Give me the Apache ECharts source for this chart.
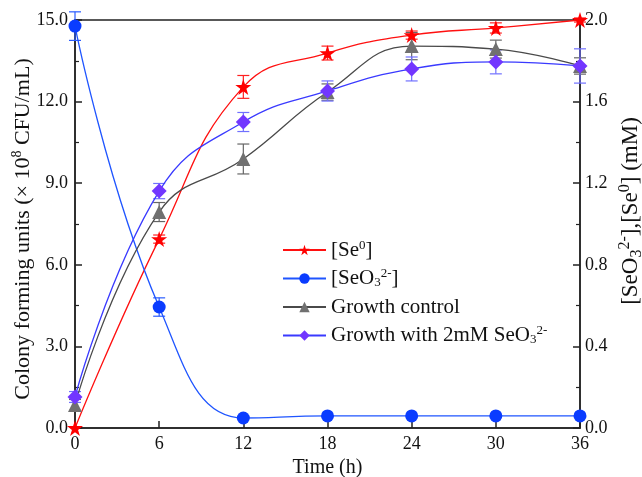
<!DOCTYPE html>
<html><head><meta charset="utf-8">
<script src="https://cdn.jsdelivr.net/npm/echarts@6/dist/echarts.min.js"></script>
<style>html,body{margin:0;padding:0;background:#fff}#c{width:642px;height:477px}</style>
</head><body><div id="c"></div>
<script>
var times = [0, 6, 12, 18, 24, 30, 36];
var xTicks = [0, 6, 12, 18, 24, 30, 36];
// right axis (mM)
var se0 = [0, 0.926, 1.672, 1.838, 1.926, 1.961, 2.0];
var se0Err = [0, 0.02, 0.056, 0.034, 0.02, 0.025, 0.01];
var seo3 = [1.97, 0.593, 0.049, 0.059, 0.059, 0.059, 0.059];
var seo3Err = [0.07, 0.045, 0, 0, 0, 0, 0];
// left axis (x10^8 CFU/mL)
var growthCtrl = [0.85, 7.94, 9.89, 12.35, 14.04, 13.93, 13.31];
var growthCtrlErr = [0.2, 0.35, 0.55, 0.3, 0.5, 0.33, 0.3];
var growthSe = [1.14, 8.71, 11.25, 12.39, 13.2, 13.46, 13.31];
var growthSeErr = [0.2, 0.28, 0.35, 0.37, 0.44, 0.44, 0.63];

var names = ['[Se0]', '[SeO32-]', 'Growth control', 'Growth with 2mM SeO32-'];

function pts(v){ return times.map(function(t,i){ return [t, v[i]]; }); }
function errPts(v,e){ return times.map(function(t,i){ return [t, v[i]-e[i], v[i]+e[i]]; }); }
function errSeries(v, e, color, yIdx){
  return {
    type: 'custom', yAxisIndex: yIdx, z: 1, silent: true,
    data: errPts(v, e),
    encode: {x: 0, y: [1, 2]},
    renderItem: function(params, api){
      var lo = api.coord([api.value(0), api.value(1)]);
      var hi = api.coord([api.value(0), api.value(2)]);
      if (Math.abs(lo[1]-hi[1]) < 0.5) return {type:'group', children: []};
      var w = 6;
      var st = {stroke: color, lineWidth: 1.2};
      return {type: 'group', children: [
        {type:'line', shape:{x1:lo[0], y1:lo[1], x2:hi[0], y2:hi[1]}, style: st},
        {type:'line', shape:{x1:lo[0]-w, y1:lo[1], x2:lo[0]+w, y2:lo[1]}, style: st},
        {type:'line', shape:{x1:hi[0]-w, y1:hi[1], x2:hi[0]+w, y2:hi[1]}, style: st}
      ]};
    }
  };
}

var FONT = '"Liberation Serif", "Times New Roman", serif';
var axisCommon = {
  axisLine: {show: true, lineStyle: {color: '#222', width: 1.5}},
  axisTick: {show: true, inside: true, length: 7, lineStyle: {color: '#222', width: 1.5}},
  splitLine: {show: false}
};
function supSub(size){
  return {
    sup: {fontFamily: FONT, fontSize: size, lineHeight: size, color: '#111', verticalAlign: 'top'},
    sub: {fontFamily: FONT, fontSize: size, lineHeight: size, color: '#111', verticalAlign: 'bottom'}
  };
}

var chart = echarts.init(document.getElementById('c'));
chart.setOption({
  backgroundColor: '#fff',
  animation: false,
  grid: {left: 75, right: 62, top: 20, bottom: 49, containLabel: false, outerBoundsMode: 'none',
         show: true, borderColor: '#222', borderWidth: 1.5},
  legend: {
    left: 282, top: 239, orient: 'vertical', padding: 0,
    itemWidth: 43, itemHeight: 13, itemGap: 6.5, itemTextGap: 9,
    data: names,
    textStyle: {fontFamily: FONT, fontSize: 21, lineHeight: 22, color: '#111',
      rich: supSub(13)},
    formatter: function(n){
      if (n === '[Se0]') return '[Se{sup|0}]';
      if (n === '[SeO32-]') return '[SeO{sub|3}{sup|2-}]';
      if (n === 'Growth with 2mM SeO32-') return 'Growth with 2mM SeO{sub|3}{sup|2-}';
      return n;
    }
  },
  xAxis: Object.assign({}, axisCommon, {
    type: 'value', min: 0, max: 36, interval: 6,
    name: 'Time (h)', nameLocation: 'middle', nameGap: 30, nameMoveOverlap: false,
    nameTextStyle: {fontFamily: FONT, fontSize: 20, color: '#111'},
    axisLabel: {color: '#111', fontFamily: FONT, fontSize: 18, margin: 7,
      formatter: function(v){ return xTicks.indexOf(v) >= 0 ? String(v) : ''; }}
  }),
  yAxis: [
    Object.assign({}, axisCommon, {
      type: 'value', min: 0, max: 15, interval: 3, position: 'left',
      minorTick: {show: true, splitNumber: 2, length: 4, lineStyle: {color: '#222', width: 1.2}},
      axisLabel: {color: '#111', fontFamily: FONT, fontSize: 18, margin: 7, formatter: function(v){ return v.toFixed(1); }},
      name: 'Colony forming units (× 10{sup|8} CFU/mL)', nameLocation: 'middle', nameGap: 39, nameRotate: 90,
      nameMoveOverlap: false,
      nameTextStyle: {fontFamily: FONT, fontSize: 22, lineHeight: 26, color: '#111', padding: [0, 10, 0, 0], rich: supSub(14)}
    }),
    Object.assign({}, axisCommon, {
      type: 'value', min: 0, max: 2, interval: 0.4, position: 'right',
      minorTick: {show: true, splitNumber: 2, length: 4, lineStyle: {color: '#222', width: 1.2}},
      axisLabel: {color: '#111', fontFamily: FONT, fontSize: 18, margin: 5, formatter: function(v){ return v.toFixed(1); }},
      name: '[SeO{sub|3}{sup|2-}],[Se{sup|0}] (mM)', nameLocation: 'middle', nameGap: 37, nameRotate: 90,
      nameMoveOverlap: false,
      nameTextStyle: {fontFamily: FONT, fontSize: 23, lineHeight: 28, color: '#111', padding: [0, 0, 0, 26], rich: supSub(16)}
    })
  ],
  series: [
    errSeries(se0, se0Err, '#ff2020', 1),
    errSeries(seo3, seo3Err, '#2a5cff', 1),
    errSeries(growthCtrl, growthCtrlErr, '#666', 0),
    errSeries(growthSe, growthSeErr, '#7070ff', 0),
    {name: names[0], type: 'line', yAxisIndex: 1, smooth: 0.45, data: pts(se0), z: 5,
     symbol: 'path://M50,0 L61.8,36.2 L100,36.2 L69.1,58.8 L80.9,95.1 L50,72.7 L19.1,95.1 L30.9,58.8 L0,36.2 L38.2,36.2 Z',
     symbolSize: 16, showAllSymbol: true,
     lineStyle: {color: '#ff1010', width: 1.3}, itemStyle: {color: '#ff0000'}},
    {name: names[1], type: 'line', yAxisIndex: 1, smooth: 0.45, data: pts(seo3), z: 5,
     symbol: 'circle', symbolSize: 13, showAllSymbol: true,
     lineStyle: {color: '#1f55ff', width: 1.3}, itemStyle: {color: '#0a3cff'}},
    {name: names[2], type: 'line', yAxisIndex: 0, smooth: 0.45, data: pts(growthCtrl), z: 5,
     symbol: 'triangle', symbolSize: 14, showAllSymbol: true,
     lineStyle: {color: '#4a4a4a', width: 1.3}, itemStyle: {color: '#707070'}},
    {name: names[3], type: 'line', yAxisIndex: 0, smooth: 0.45, data: pts(growthSe), z: 5,
     symbol: 'diamond', symbolSize: 15, showAllSymbol: true,
     lineStyle: {color: '#3a3aff', width: 1.3}, itemStyle: {color: '#7236ff'}}
  ]
});
</script></body></html>
